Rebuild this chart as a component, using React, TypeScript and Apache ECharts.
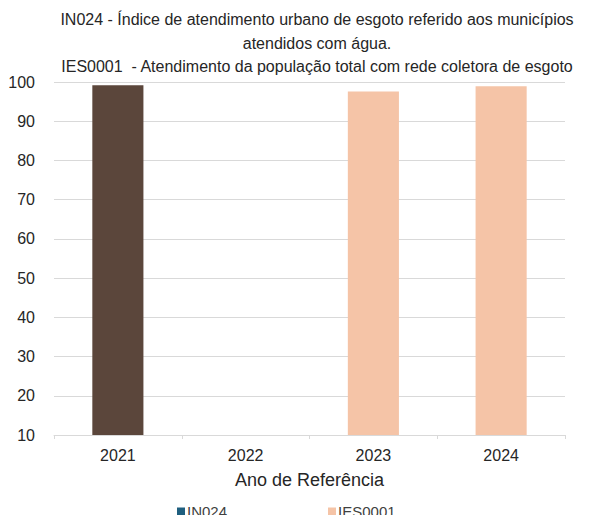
import React, { useEffect, useRef } from "react";
import * as echarts from "echarts";

const titleLines = [
  "IN024 - Índice de atendimento urbano de esgoto referido aos municípios",
  "atendidos com água.",
  "IES0001  - Atendimento da população total com rede coletora de esgoto",
];
const categories = ["2021", "2022", "2023", "2024"];
const seriesNames = ["IN024", "IES0001"];
const in024Values: (number | null)[] = [99.2, null, null, null];
const ies0001Values: (number | null)[] = [null, null, 97.6, 98.9];
const xAxisName = "Ano de Referência";

const FONT = "'Liberation Sans Narrow', 'Liberation Sans', Arial, sans-serif";

export default function App() {
  const ref = useRef<HTMLDivElement>(null);
  useEffect(() => {
    document.body.style.margin = "0";
    const chart = echarts.init(ref.current!, null, { renderer: "svg" });
    chart.setOption({
      animation: false,
      textStyle: { fontFamily: FONT },
      title: {
        text: titleLines.join("\n"),
        left: 312,
        top: 3,
        textAlign: "center",
        textStyle: {
          fontFamily: FONT,
          fontSize: 16,
          fontWeight: "normal",
          color: "#262626",
          lineHeight: 23.5,
        },
      },
      legend: {
        data: seriesNames,
        top: 499,
        left: 172,
        itemGap: 101,
        itemWidth: 8,
        itemHeight: 8,
        icon: "rect",
        textStyle: { fontFamily: FONT, fontSize: 15, color: "#404040", padding: [0, 0, 0, -3] },
      },
      grid: { left: 54, right: 32, top: 82, bottom: 80, containLabel: false },
      xAxis: {
        type: "category",
        data: categories,
        name: xAxisName,
        nameLocation: "middle",
        nameGap: 36,
        nameTextStyle: { fontFamily: FONT, fontSize: 18, color: "#262626" },
        axisLine: { lineStyle: { color: "#d9d9d9" } },
        axisTick: { show: true, alignWithLabel: false, length: 4, lineStyle: { color: "#d9d9d9" } },
        axisLabel: { fontFamily: FONT, fontSize: 16, color: "#262626", margin: 12 },
      },
      yAxis: {
        type: "value",
        min: 10,
        max: 100,
        interval: 10,
        axisLine: { show: false },
        axisTick: { show: false },
        axisLabel: { fontFamily: FONT, fontSize: 16, color: "#262626", margin: 19 },
        splitLine: { lineStyle: { color: "#d9d9d9" } },
      },
      series: [
        {
          name: seriesNames[0],
          type: "bar",
          stack: "total",
          barWidth: "40%",
          itemStyle: { color: "#1f5f7f" },
          data: in024Values.map((v) =>
            v === null ? null : { value: v, itemStyle: { color: "#5b463b" } }
          ),
        },
        {
          name: seriesNames[1],
          type: "bar",
          stack: "total",
          barWidth: "40%",
          itemStyle: { color: "#f5c4a7" },
          data: ies0001Values,
        },
      ],
    });
    return () => chart.dispose();
  }, []);
  return <div ref={ref} style={{ width: 597, height: 515, background: "#fff" }} />;
}
